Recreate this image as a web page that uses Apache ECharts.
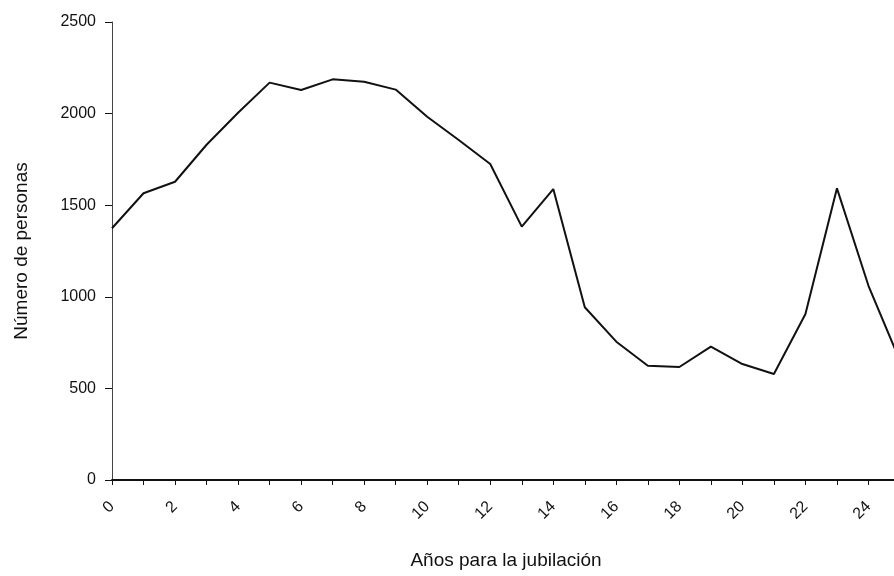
<!DOCTYPE html>
<html>
<head>
<meta charset="utf-8">
<title>Número de personas por años para la jubilación</title>
<script src="https://cdn.jsdelivr.net/npm/echarts@6/dist/echarts.min.js"></script>
<style>
  html, body { margin: 0; padding: 0; background: #fff; }
  #chart { width: 894px; height: 576px; }
</style>
</head>
<body>
<div id="chart"></div>
<script>
// años para la jubilación (eje x)
const years = [0, 1, 2, 3, 4, 5, 6, 7, 8, 9, 10, 11, 12, 13, 14, 15, 16, 17, 18, 19, 20, 21, 22, 23, 24, 25]
// número de personas
const personas = [1374, 1565, 1628, 1830, 2005, 2169, 2129, 2187, 2174, 2131, 1983, 1856, 1725, 1383, 1588, 943, 755, 624, 617, 728, 633, 579, 906, 1592, 1060, 650]
const yTicks = [0, 500, 1000, 1500, 2000, 2500]

const font = 'Liberation Sans, Arial, sans-serif'
const ink = '#111'

const myChart = echarts.init(document.getElementById('chart'))
const option = {
  animation: false,
  backgroundColor: '#fff',
  grid: {
    left: 112,
    right: -6,
    top: 22,
    bottom: 96,
    containLabel: false,
    outerBoundsMode: 'none'
  },
  xAxis: {
    type: 'value',
    min: 0,
    max: 25,
    interval: 1,
    name: 'Años para la jubilación',
    nameLocation: 'middle',
    nameGap: 71,
    nameTextStyle: { fontFamily: font, fontSize: 19, color: ink },
    axisLine: { show: true, lineStyle: { color: ink, width: 2 } },
    axisTick: { show: true, inside: false, length: 5, lineStyle: { color: ink } },
    axisLabel: {
      rotate: 45,
      margin: 24,
      fontFamily: font,
      fontSize: 16,
      color: ink,
      showMaxLabel: false,
      formatter: v => (v % 2 === 0 && v < 25 ? String(v) : '')
    },
    splitLine: { show: false }
  },
  yAxis: {
    type: 'value',
    min: yTicks[0],
    max: yTicks[yTicks.length - 1],
    interval: 500,
    name: 'Número de personas',
    nameLocation: 'middle',
    nameGap: 81,
    nameTextStyle: { fontFamily: font, fontSize: 19, color: ink },
    axisLine: { show: true, lineStyle: { color: '#444', width: 1 } },
    axisTick: { show: true, inside: false, length: 7, lineStyle: { color: ink } },
    axisLabel: { margin: 16, fontFamily: font, fontSize: 16, color: ink, formatter: v => String(v) },
    splitLine: { show: false }
  },
  series: [
    {
      name: 'Número de personas',
      type: 'line',
      data: years.map((y, i) => [y, personas[i]]),
      showSymbol: false,
      symbol: 'none',
      lineStyle: { color: ink, width: 2 },
      clip: true
    }
  ]
}
option && myChart.setOption(option)
</script>
</body>
</html>
